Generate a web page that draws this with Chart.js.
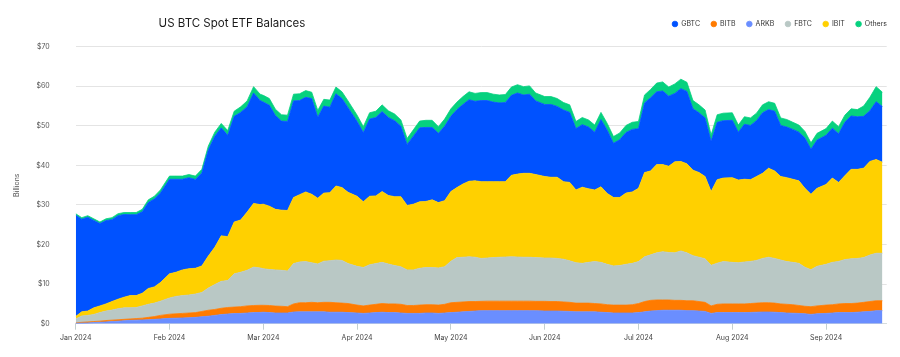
<!DOCTYPE html>
<html><head><meta charset="utf-8">
<script src="https://cdn.jsdelivr.net/npm/chart.js@4.4.1/dist/chart.umd.min.js"></script>
<style>html,body{margin:0;padding:0;background:#fff;}#wrap{position:relative;width:900px;height:357px;}</style>
</head><body><div id="wrap"><canvas id="c" width="900" height="357"></canvas></div>
<script>
const chartTitle = "US BTC Spot ETF Balances";
const monthLabels = ["Jan 2024","Feb 2024","Mar 2024","Apr 2024","May 2024","Jun 2024","Jul 2024","Aug 2024","Sep 2024"];
const legendOrder = ["GBTC","BITB","ARKB","FBTC","IBIT","Others"];

const dates = [
"2024-01-01","2024-01-03","2024-01-05","2024-01-07","2024-01-09","2024-01-11","2024-01-13","2024-01-15","2024-01-17","2024-01-19","2024-01-21","2024-01-23","2024-01-25","2024-01-27","2024-01-29",
"2024-02-01","2024-02-03","2024-02-05","2024-02-07","2024-02-09","2024-02-11","2024-02-13","2024-02-15","2024-02-17","2024-02-19","2024-02-21","2024-02-23","2024-02-25","2024-02-27","2024-02-29",
"2024-03-01","2024-03-03","2024-03-05","2024-03-07","2024-03-09","2024-03-11","2024-03-13","2024-03-15","2024-03-17","2024-03-19","2024-03-21","2024-03-23","2024-03-25","2024-03-27","2024-03-29",
"2024-04-01","2024-04-03","2024-04-05","2024-04-07","2024-04-09","2024-04-11","2024-04-13","2024-04-15","2024-04-17","2024-04-19","2024-04-21","2024-04-23","2024-04-25","2024-04-27","2024-04-29",
"2024-05-01","2024-05-03","2024-05-05","2024-05-07","2024-05-09","2024-05-11","2024-05-13","2024-05-15","2024-05-17","2024-05-19","2024-05-21","2024-05-23","2024-05-25","2024-05-27","2024-05-29",
"2024-06-01","2024-06-03","2024-06-05","2024-06-07","2024-06-09","2024-06-11","2024-06-13","2024-06-15","2024-06-17","2024-06-19","2024-06-21","2024-06-23","2024-06-25","2024-06-27","2024-06-29",
"2024-07-01","2024-07-03","2024-07-05","2024-07-07","2024-07-09","2024-07-11","2024-07-13","2024-07-15","2024-07-17","2024-07-19","2024-07-21","2024-07-23","2024-07-25","2024-07-27","2024-07-29",
"2024-08-01","2024-08-03","2024-08-05","2024-08-07","2024-08-09","2024-08-11","2024-08-13","2024-08-15","2024-08-17","2024-08-19","2024-08-21","2024-08-23","2024-08-25","2024-08-27","2024-08-29",
"2024-09-01","2024-09-03","2024-09-05","2024-09-07","2024-09-09","2024-09-11","2024-09-13","2024-09-15","2024-09-17","2024-09-19"
];

// values in $ billions
const arkb = [
0.1,0.15,0.2,0.3,0.35,0.45,0.55,0.65,0.75,0.85,0.9,0.95,1.0,1.1,1.2,
1.35,1.4,1.45,1.5,1.6,1.75,1.9,2.1,2.3,2.45,2.55,2.6,2.7,2.8,2.85,
2.9,2.8,2.7,2.7,2.7,2.95,3.0,3.0,3.0,3.0,3.0,2.9,2.9,2.9,2.8,
2.7,2.6,2.7,2.8,2.9,2.8,2.8,2.7,2.6,2.6,2.6,2.7,2.7,2.6,2.7,
2.8,2.9,3.0,3.1,3.2,3.3,3.3,3.3,3.3,3.3,3.3,3.3,3.3,3.3,3.3,
3.2,3.2,3.2,3.15,3.1,3.0,3.0,3.0,3.0,2.9,2.8,2.7,2.7,2.7,2.7,
2.8,3.0,3.2,3.3,3.4,3.4,3.4,3.4,3.3,3.3,3.2,3.1,2.6,2.8,2.8,
2.8,2.8,2.8,2.85,2.9,2.95,2.95,2.9,2.8,2.7,2.65,2.6,2.5,2.35,2.5,
2.6,2.7,2.8,2.8,2.8,2.9,3.0,3.1,3.3,3.3
];
const bitb = [
0.1,0.2,0.25,0.25,0.3,0.35,0.35,0.35,0.35,0.35,0.4,0.45,0.6,0.7,0.9,
1.05,1.1,1.15,1.2,1.2,1.35,1.5,1.5,1.6,1.65,1.65,1.7,1.8,1.8,1.8,
1.75,1.8,1.75,1.7,1.6,2.05,2.3,2.3,2.4,2.3,2.4,2.5,2.4,2.3,2.3,
2.0,1.9,2.0,2.1,2.2,2.2,2.2,2.2,2.0,2.0,2.1,2.1,2.1,2.1,2.2,
2.5,2.5,2.5,2.5,2.4,2.35,2.4,2.4,2.4,2.4,2.4,2.4,2.4,2.4,2.35,
2.45,2.4,2.4,2.35,2.3,2.2,2.2,2.2,2.1,2.1,2.0,2.0,2.0,2.0,2.1,
2.3,2.6,2.7,2.7,2.6,2.6,2.5,2.5,2.5,2.5,2.4,2.3,1.9,2.1,2.2,
2.2,2.2,2.2,2.25,2.3,2.35,2.35,2.3,2.2,2.2,2.15,2.0,1.9,1.95,2.0,
2.1,2.1,2.2,2.3,2.3,2.3,2.4,2.5,2.5,2.5
];
const fbtc = [
1.0,1.6,1.65,1.8,2.15,2.4,2.55,2.8,2.9,2.85,2.8,3.1,3.3,3.4,3.6,
4.1,4.4,4.5,4.55,4.7,4.8,5.6,6.3,6.8,6.8,8.4,8.7,9.0,9.7,9.45,
9.25,9.1,9.15,9.1,9.0,10.2,10.3,10.4,10.0,9.8,10.4,10.5,10.8,10.8,10.1,
9.8,9.7,10.2,10.3,10.4,10.1,9.7,9.5,9.0,9.0,9.3,9.4,9.4,9.4,9.5,
10.5,11.3,11.3,11.3,11.2,10.85,10.9,11.0,11.1,11.15,11.2,11.15,11.1,11.1,11.05,
10.95,11.0,10.9,10.8,10.5,10.2,10.05,10.3,10.6,10.5,10.2,9.9,10.0,10.3,10.45,
10.6,11.3,11.5,11.9,12.2,12.0,12.0,12.5,12.1,11.4,11.2,11.0,10.25,10.4,10.7,
10.5,10.4,10.6,10.65,10.8,11.2,11.5,11.3,11.1,10.8,10.7,10.65,9.85,9.35,10.0,
10.3,10.7,10.75,11.1,11.3,11.3,11.3,11.75,12.0,12.0
];
const ibit = [
0.65,1.05,1.1,1.65,1.7,1.8,2.15,2.4,2.7,3.05,3.0,3.2,4.0,4.1,4.7,
6.1,6.1,6.5,6.65,6.5,6.7,8.1,9.4,11.5,11.1,13.1,13.2,14.7,16.1,16.0,
16.3,16.0,15.3,15.2,15.3,16.7,17.0,17.6,17.3,16.6,17.2,17.2,18.7,18.4,18.0,
17.7,16.6,17.3,17.1,17.9,17.3,17.4,17.7,16.3,16.6,16.8,16.7,17.1,16.5,16.7,
17.6,17.7,18.5,19.1,19.3,19.4,19.3,19.2,19.1,19.05,20.6,20.95,21.2,21.2,21.0,
20.6,20.4,20.5,19.6,19.8,18.4,19.25,18.6,18.1,19.1,17.9,17.3,17.2,18.0,18.05,
18.5,21.3,21.2,22.3,22.0,21.8,23.0,22.6,22.5,21.6,21.4,20.8,18.65,21.1,21.1,
21.4,20.9,20.9,20.65,21.2,21.5,22.5,22.1,21.1,21.2,21.0,20.85,19.95,19.05,19.7,
20.2,21.3,19.95,21.2,22.6,22.5,22.6,23.65,23.7,23.0
];
const gbtc = [
25.55,23.4,23.7,22.1,20.8,21.05,20.7,21.1,20.9,20.45,20.45,20.6,21.75,22.2,22.65,
23.9,23.5,22.9,23.0,22.45,23.5,26.8,28.1,27.3,25.6,26.7,27.2,26.6,27.9,26.3,
25.8,25.5,23.7,22.5,22.5,24.4,23.8,23.9,24.2,20.5,22.0,21.6,23.3,22.5,21.4,
18.9,17.5,19.5,19.8,20.2,19.7,19.2,17.8,15.4,17.2,18.7,18.7,18.3,17.5,18.8,
19.0,19.7,20.1,20.6,20.1,20.5,20.5,20.1,19.9,20.0,20.2,20.5,19.8,20.0,18.6,
18.2,18.4,17.9,18.1,17.7,15.5,15.8,15.6,14.6,17.0,16.0,13.7,14.6,15.3,15.8,
15.1,17.6,18.5,18.4,18.6,17.7,17.3,18.4,18.3,15.5,15.1,14.8,12.7,14.5,14.5,
14.5,12.1,13.9,13.7,14.1,15.3,14.8,15.1,12.9,12.8,12.6,12.3,12.7,11.4,12.2,
12.4,12.6,12.3,13.5,13.5,13.3,13.1,12.8,14.6,14.1
];
const others = [
0.4,0.4,0.4,0.4,0.4,0.45,0.5,0.5,0.5,0.55,0.55,0.6,0.65,0.7,0.75,
0.8,0.8,0.8,0.8,0.85,0.9,1.0,1.0,1.1,1.2,1.3,1.4,1.5,1.6,1.6,
1.7,1.7,1.6,1.6,1.6,1.7,1.7,1.7,1.6,1.7,1.7,1.8,1.7,1.7,1.7,
1.6,1.5,1.6,1.6,1.7,1.7,1.7,1.6,1.5,1.6,1.7,1.8,1.8,1.7,1.8,
1.9,1.9,2.0,2.0,2.0,2.0,2.0,2.0,2.0,2.0,2.1,2.1,2.1,2.1,2.0,
2.0,2.0,2.0,1.9,1.9,1.8,1.8,1.8,1.8,1.8,1.7,1.7,1.7,1.8,1.8,
1.8,2.0,2.1,2.2,2.3,2.3,2.4,2.4,2.3,2.1,2.0,2.0,1.6,1.9,1.9,
1.9,1.8,1.9,1.9,1.9,2.0,2.0,2.0,1.9,1.9,1.8,1.8,1.7,1.6,1.7,
1.7,1.8,1.8,1.8,1.8,1.8,2.6,3.4,3.8,3.6
];

// month-index position of a date (each month takes equal width, as in the reference)
function monthPos(s){
  const [y,m,d] = s.split('-').map(Number);
  const dim = new Date(y, m, 0).getDate();
  return (m - 1) + (d - 1) / dim;
}
const xs = dates.map(monthPos);
const toPts = arr => arr.map((v,i) => ({x: xs[i], y: v}));

const seriesDefs = [
  ["ARKB", arkb, "#6a8eff"],
  ["BITB", bitb, "#ff7b00"],
  ["FBTC", fbtc, "#b9c8c5"],
  ["IBIT", ibit, "#ffd000"],
  ["GBTC", gbtc, "#0052ff"],
  ["Others", others, "#06d17f"]
];

const datasets = seriesDefs.map(([label, arr, col], i) => ({
  label, data: toPts(arr),
  backgroundColor: col, borderColor: col, borderWidth: 0.8,
  pointRadius: 0, pointHoverRadius: 0, tension: 0,
  fill: i === 0 ? 'origin' : '-1'
}));

const CHART_TOP = 46.7, CHART_LEFT = 75.7, CHART_BOTTOM_SPACE = 33.3, CHART_RIGHT_SPACE = 13.3;
const LAYOUT_TOP = 9.5;

const titlePlugin = {
  id: 'customTitle',
  afterDraw(chart){
    const ctx = chart.ctx;
    ctx.save();
    ctx.font = '400 11.5px Inter, "Noto Sans", sans-serif';
    ctx.fillStyle = '#1b1b1b';
    ctx.textAlign = 'center';
    ctx.textBaseline = 'middle';
    ctx.fillText(chartTitle, 232, 24);
    ctx.restore();
  }
};
const legendFix = {
  id: 'legendFix',
  beforeLayout(chart){
    const lg = chart.legend;
    if (lg && !lg._fixed){
      const f = lg.fit.bind(lg);
      lg.fit = function(){ f(); this.height = CHART_TOP - LAYOUT_TOP; };
      lg._fixed = true;
    }
  }
};

new Chart(document.getElementById('c'), {
  type: 'line',
  data: { datasets },
  plugins: [legendFix, titlePlugin],
  options: {
    responsive: false, animation: false, devicePixelRatio: 1,
    layout: { padding: { top: LAYOUT_TOP, left: 0, right: 2, bottom: 0 } },
    interaction: { mode: 'nearest', intersect: false },
    plugins: {
      tooltip: { enabled: false },
      title: { display: false },
      legend: {
        position: 'top', align: 'end',
        labels: {
          usePointStyle: true, pointStyle: 'circle', boxWidth: 5.5, boxHeight: 4,
          padding: 11, color: '#333',
          font: { family: 'Inter, "Noto Sans", sans-serif', size: 7 },
          sort: (a, b) => legendOrder.indexOf(a.text) - legendOrder.indexOf(b.text)
        }
      }
    },
    scales: {
      x: {
        type: 'linear', min: 0, max: 8.646,
        afterFit(s){ s.height = CHART_BOTTOM_SPACE; s.paddingRight = CHART_RIGHT_SPACE; },
        ticks: {
          stepSize: 1, autoSkip: false, maxRotation: 0, includeBounds: false,
          padding: 4, color: '#444',
          font: { family: 'Inter, "Noto Sans", sans-serif', size: 7 },
          callback: v => monthLabels[v] ?? ''
        },
        grid: { drawOnChartArea: false, drawTicks: true, tickLength: 6, color: '#c3cfcf' },
        border: { display: true, color: '#d6dddd' }
      },
      y: {
        stacked: true, min: 0, max: 70,
        afterFit(s){ s.width = CHART_LEFT; },
        ticks: {
          stepSize: 10, padding: 26, color: '#555',
          font: { family: 'Inter, "Noto Sans", sans-serif', size: 7 },
          callback: v => '$' + v
        },
        grid: { drawTicks: false, color: '#e4e4e4' },
        border: { display: false },
        title: {
          display: true, text: 'Billions', color: '#555',
          font: { family: 'Inter, "Noto Sans", sans-serif', size: 7 },
          padding: { top: 13, bottom: 0 }
        }
      }
    }
  }
});
</script></body></html>
